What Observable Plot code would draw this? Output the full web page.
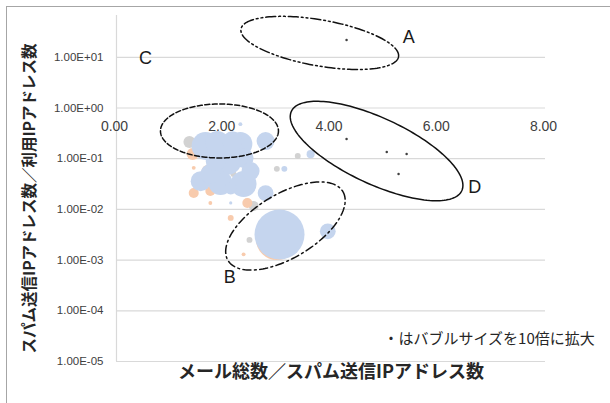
<!DOCTYPE html>
<html><head><meta charset="utf-8">
<script src="https://cdn.jsdelivr.net/npm/d3@7"></script>
<script src="https://cdn.jsdelivr.net/npm/@observablehq/plot@0.6"></script>
<style>
body{margin:0;background:#fff;}
#chart{position:absolute;left:0;top:0;}
#frame{position:absolute;left:6px;top:6px;width:700px;height:500px;border-left:1px solid #a6a6a6;border-top:1px solid #a6a6a6;pointer-events:none;}
</style></head><body><div id="chart"></div><div id="frame"></div>
<script>
// ---- data ----
const xTicks = [0, 2, 4, 6, 8];
const yTicks = [1e-5, 1e-4, 1e-3, 1e-2, 1e-1, 1, 10];

const blueX = [1.66,1.88,2.31,2.78,2.07,2.37,1.57,1.94,2.37,1.75,2.78,2.13,2.16,1.85,2.50,2.31,2.13,3.62,3.13,3.04,3.94];
const blueY = [0.178,0.204,0.195,0.223,0.090,0.103,0.036,0.033,0.0316,0.050,0.021,0.026,0.22,0.09,0.057,0.48,0.0134,0.123,0.063,0.0032,0.0037];
const blueSize = [31,23,23,13,31,16,16,23,27,16,10,6,16,16,13,0.6,0.4,2.6,1.4,100,10];

const orangeX = [1.42,1.70,1.44,1.75,2.44,1.75,1.44,2.13,2.37,2.99];
const orangeY = [0.124,0.057,0.021,0.023,0.0134,0.0134,0.066,0.0068,0.0013,0.0026];
const orangeSize = [5.8,5.8,4,4,4,0.6,0.6,1.4,0.6,70];

const grayX = [1.36,1.98,2.56,2.18,2.48,3.38,2.99];
const grayY = [0.213,0.023,0.0117,0.050,0.0025,0.113,0.063];
const graySize = [5.8,1.4,4,1.4,1.4,1.4,1.4];

const dotX = [4.29,4.29,5.04,5.41,5.26];
const dotY = [21.9,0.245,0.135,0.124,0.050];
const dotSize = [0.25,0.25,0.25,0.25,0.25];

const groupLabels = ["A","B","C","D"];
const groupLabelX = [5.45,2.11,0.54,6.68];
const groupLabelY = [25.2,4.6e-4,9.7,0.0276];

const xTitle = "メール総数／スパム送信IPアドレス数";
const yTitle = "スパム送信IPアドレス数／利用IPアドレス数";
const note = "・はバブルサイズを10倍に拡大";
const noteX = 4.98, noteY = 2.75e-5;

// annotation ellipses: centre in data units, semi-axes in px
const ellipses = [
  {cx:3.79, cy:19.2,   a:80, b:23, angle:10,  dash:"10,3,1.8,3,1.8,3"},
  {cx:3.15, cy:0.0047, a:67, b:32, angle:-31, dash:"8,3.5,1.8,3.5"},
  {cx:1.92, cy:0.352,  a:59, b:27, angle:0,   dash:"5,2.5"},
  {cx:4.85, cy:0.1417, a:94, b:33, angle:25,  dash:null}
];

// ---- build ----
const W = 610, H = 403;
const mL = 116, mR = 65, mT = 15, mB = 42;
const yTop = Math.pow(10, 1.824);
const xDomain = [0, 8], yDomain = [1e-5, yTop];

const rows = (xs, ys, ss) => xs.map((x, i) => ({x, y: ys[i], s: ss[i]}));
const blue = rows(blueX, blueY, blueSize);
const orange = rows(orangeX, orangeY, orangeSize);
const gray = rows(grayX, grayY, graySize);
const dots = rows(dotX, dotY, dotSize);
const letters = groupLabels.map((t, i) => ({t, x: groupLabelX[i], y: groupLabelY[i]}));

const sx = Plot.scale({x: {domain: xDomain, range: [mL, W - mR]}});
const sy = Plot.scale({y: {type: "log", domain: yDomain, range: [H - mB, mT]}});
function ellipsePts(e) {
  const cxp = sx.apply(e.cx), cyp = sy.apply(e.cy);
  const th = e.angle * Math.PI / 180, N = 160, pts = [];
  for (let i = 0; i < N; i++) {
    const t = 2 * Math.PI * i / N;
    const px = cxp + e.a * Math.cos(t) * Math.cos(th) - e.b * Math.sin(t) * Math.sin(th);
    const py = cyp + e.a * Math.cos(t) * Math.sin(th) + e.b * Math.sin(t) * Math.cos(th);
    pts.push({x: sx.invert(px), y: sy.invert(py)});
  }
  return pts;
}

const fmtY = d => {
  const e = Math.round(Math.log10(d));
  return "1.00E" + (e < 0 ? "-" : "+") + String(Math.abs(e)).padStart(2, "0");
};

const latin = "'Liberation Sans', Arial, sans-serif";
const jp = "'Noto Sans CJK JP', sans-serif";

const plot = Plot.plot({
  width: W, height: H,
  marginLeft: mL, marginRight: mR, marginTop: mT, marginBottom: mB,
  style: {background: "transparent", fontFamily: latin, overflow: "visible"},
  x: {domain: xDomain, axis: null},
  y: {type: "log", domain: yDomain, axis: null},
  r: {type: "sqrt", domain: [0, 100], range: [0, 25]},
  marks: [
    Plot.ruleY(yTicks, {stroke: "#d9d9d9", strokeWidth: 1.2}),
    Plot.ruleX([0], {stroke: "#d9d9d9", strokeWidth: 1.2}),
    Plot.dot(gray, {x: "x", y: "y", r: "s", fill: "#d2d2d2"}),
    Plot.dot(orange, {x: "x", y: "y", r: "s", fill: "#f8cbad"}),
    Plot.dot(blue, {x: "x", y: "y", r: "s", fill: "#c5d5ee"}),
    Plot.dot(dots, {x: "x", y: "y", r: "s", fill: "#404040"}),
    ...ellipses.map(e => Plot.line(ellipsePts(e), {
      x: "x", y: "y", curve: "linear-closed", stroke: "#111", strokeWidth: 1.5,
      strokeDasharray: e.dash || undefined
    })),
    Plot.text(yTicks, {y: d => d, text: fmtY, frameAnchor: "left", dx: -13, textAnchor: "end",
      fontSize: 11.5, fill: "#404040"}),
    Plot.text(xTicks, {x: d => d, y: () => 1, text: d => d.toFixed(2), dx: -2, dy: 19,
      fontSize: 14, fill: "#404040"}),
    Plot.text(letters, {x: "x", y: "y", text: "t", fontSize: 18, fill: "#1a1a1a"}),
    Plot.text([note], {x: () => noteX, y: () => noteY, text: d => d, textAnchor: "start",
      fontSize: 15, fontFamily: jp, fill: "#262626"}),
    Plot.text([xTitle], {text: d => d, frameAnchor: "bottom", dy: 16, fontSize: 18,
      fontWeight: "bold", fontFamily: jp, fill: "#262626"}),
    Plot.text([yTitle], {text: d => d, frameAnchor: "left", textAnchor: "middle", dx: -86, dy: 10, rotate: -90,
      fontSize: 15.5, fontWeight: "bold", fontFamily: jp, fill: "#262626"})
  ]
});
document.getElementById("chart").appendChild(plot);
</script></body></html>
